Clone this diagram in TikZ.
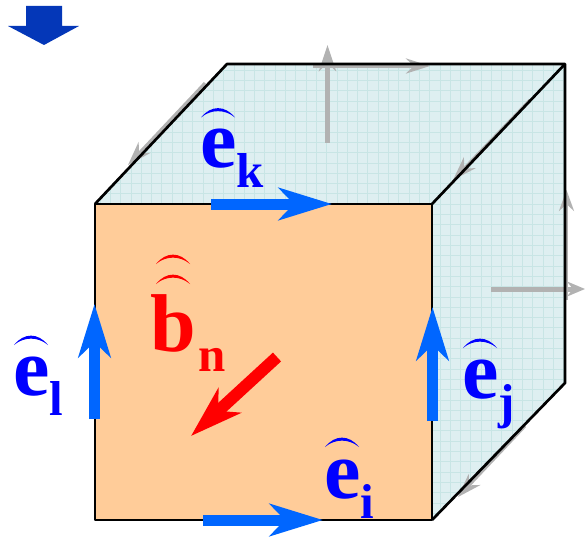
\documentclass[tikz,border=0pt]{standalone}
\usepackage{fontspec}
\setmainfont{Liberation Serif}
\usetikzlibrary{arrows.meta}
\definecolor{facecol}{HTML}{DEEFF1}
\definecolor{gridcol}{HTML}{C8E5E5}
\definecolor{frontcol}{HTML}{FFCC99}
\definecolor{vecblue}{HTML}{0066FF}
\definecolor{txtblue}{HTML}{0000FF}
\definecolor{greyarrow}{HTML}{B2B2B2}
\definecolor{topblue}{HTML}{0437B8}
\newcommand{\hatmark}[3]{\fill[#3] (#1,#2) .. controls ({#1+10},{#2-12.5}) and ({#1+24},{#2-12.5}) .. ({#1+34},#2) .. controls ({#1+24},{#2-8.5}) and ({#1+10},{#2-8.5}) .. cycle;}
\tikzset{
  edge/.style={draw=black,line width=2.7pt,line join=round},
  bluevec/.style={draw=vecblue,line width=11pt,-{Stealth[length=53pt,width=32pt,inset=15pt]}},
  redvec/.style={draw=red,line width=12pt,-{Stealth[length=52pt,width=33pt,inset=15pt]}},
  greyvec/.style={draw=greyarrow,line width=5pt,-{Stealth[length=26pt,width=17pt,inset=8pt]}},
  greydiag/.style={draw=greyarrow,line width=3pt,-{Stealth[length=24pt,width=16pt,inset=8pt]}},
  bigsym/.style={font=\fontsize{82}{82}\selectfont\bfseries,anchor=base west,inner sep=0pt,outer sep=0pt},
  subsym/.style={font=\fontsize{49}{49}\selectfont\bfseries,anchor=base west,inner sep=0pt,outer sep=0pt},
}
\begin{document}
\begin{tikzpicture}[x=1pt,y=-1pt]
\useasboundingbox (0,0) rectangle (585,537);
% corners
\coordinate (fTL) at (95,204);
\coordinate (fTR) at (432,204);
\coordinate (fBR) at (432,520);
\coordinate (fBL) at (95,520);
\coordinate (bTL) at (227,64);
\coordinate (bTR) at (565,64);
\coordinate (bBR) at (565,383);
% side faces with grid
\fill[facecol] (fTL) -- (bTL) -- (bTR) -- (bBR) -- (fBR) -- (fTR) -- cycle;
\begin{scope}
\clip (fTL) -- (bTL) -- (bTR) -- (bBR) -- (fBR) -- (fTR) -- cycle;
\foreach \gx in {0,...,46} \draw[gridcol,line width=0.8pt] ({100+10.3*\gx},60) -- ({100+10.3*\gx},525);
\foreach \gy in {0,...,46} \draw[gridcol,line width=0.8pt] (90,{60+10.3*\gy}) -- (570,{60+10.3*\gy});
\end{scope}
% grey arrows
\coordinate (g1a) at (327.5,143); \coordinate (g1b) at (327.5,45);
\coordinate (g2a) at (313,66);    \coordinate (g2b) at (430,66);
\coordinate (g3a) at (205,83);    \coordinate (g3b) at (128,165);
\coordinate (g4a) at (530,100);   \coordinate (g4b) at (453,180);
\coordinate (g5a) at (566.5,300); \coordinate (g5b) at (566.5,190);
\coordinate (g6a) at (491,289);   \coordinate (g6b) at (585,289);
\coordinate (g7a) at (525,426);   \coordinate (g7b) at (458,497);
\draw[greyvec] (g1a) -- (g1b);
\draw[greyvec,line width=4pt,-{Stealth[length=24pt,width=15pt,inset=8pt]}] (g2a) -- (g2b);
\draw[greydiag] (g3a) -- (g3b);
\draw[greydiag] (g4a) -- (g4b);
\draw[greyvec,line width=3pt,-{Stealth[length=21pt,width=15pt,inset=7pt]}] (g5a) -- (g5b);
\draw[greyvec,line width=5pt,-{Stealth[length=18pt,width=15pt,inset=6pt]}] (g6a) -- (g6b);
\draw[greydiag] (g7a) -- (g7b);
% front face & edges
\fill[frontcol] (fTL) rectangle (fBR);
\draw[edge] (fTL) -- (bTL) -- (bTR) -- (bBR) -- (fBR);
\draw[edge] (fTR) -- (bTR);
\draw[edge] (fTL) -- (fTR) -- (fBR) -- (fBL) -- cycle;
% top-left block arrow
\fill[topblue] (26,6) -- (62,6) -- (62,26) -- (79,26) -- (44,45) -- (8,26) -- (26,26) -- cycle;
% vectors
\coordinate (v1a) at (211,204); \coordinate (v1b) at (332,204);
\coordinate (v2a) at (203,520); \coordinate (v2b) at (323,520);
\coordinate (v3a) at (94.5,419); \coordinate (v3b) at (94.5,304);
\coordinate (v4a) at (432.5,421); \coordinate (v4b) at (432.5,307);
\coordinate (v5a) at (277,357); \coordinate (v5b) at (191,436);
\draw[bluevec] (v1a) -- (v1b);
\draw[bluevec] (v2a) -- (v2b);
\draw[bluevec] (v3a) -- (v3b);
\draw[bluevec] (v4a) -- (v4b);
\draw[redvec] (v5a) -- (v5b);
% labels
\node[bigsym,text=txtblue] (ek) at (200,168) {e};
\node[subsym,text=txtblue] (ekS) at (236,188) {k};
\hatmark{201}{117.5}{txtblue}
\node[bigsym,text=txtblue] (el) at (13.5,395) {e};
\node[subsym,text=txtblue] (elS) at (49,415) {l};
\hatmark{14}{345}{txtblue}
\node[bigsym,text=red] (bn) at (150,351) {b};
\node[subsym,text=red] (bnS) at (198,371) {n};
\hatmark{156}{264}{red}
\hatmark{156}{284}{red}
\node[bigsym,text=txtblue] (ei) at (324,498) {e};
\node[subsym,text=txtblue] (eiS) at (360,518) {i};
\hatmark{325}{447}{txtblue}
\node[bigsym,text=txtblue] (ej) at (462,398) {e};
\node[subsym,text=txtblue] (ejS) at (498,418) {j};
\hatmark{463}{348}{txtblue}
\end{tikzpicture}
\end{document}
